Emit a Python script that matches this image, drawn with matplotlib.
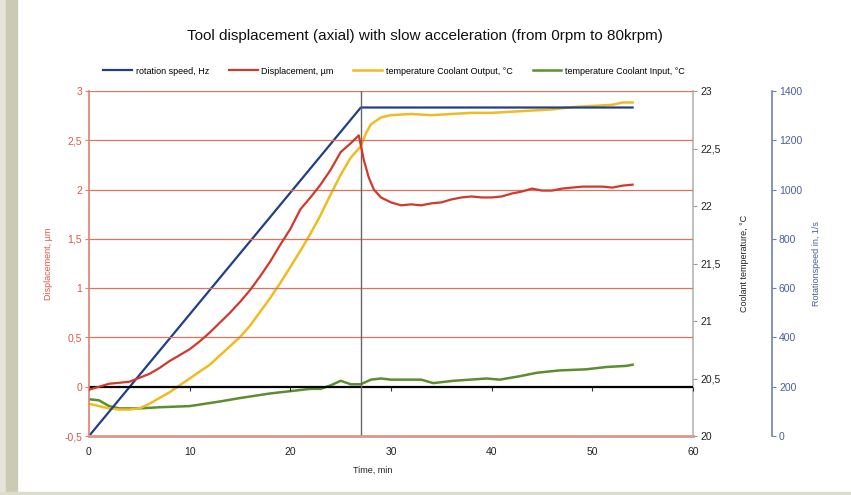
import matplotlib.pyplot as plt
from matplotlib.patches import Rectangle
from matplotlib.ticker import FuncFormatter

plt.rcParams['font.family'] = ['Liberation Sans', 'DejaVu Sans']

# rotation speed, Hz
speed_t = [0, 27, 54]
speed_hz = [0, 1333, 1333]

# displacement, um
disp_t = [0, 1, 2, 3, 4, 5, 6, 7, 8, 9, 10, 11, 12, 13, 14, 15, 16, 17, 18, 19,
          20, 21, 22, 23, 24, 25, 26, 26.8, 27.3, 27.8, 28.3, 29, 30, 31, 32, 33,
          34, 35, 36, 37, 38, 39, 40, 41, 42, 43, 44, 45, 46, 47, 48, 49, 50, 51,
          52, 53, 54]
disp_um = [-0.03, 0.0, 0.03, 0.04, 0.05, 0.09, 0.13, 0.19, 0.26, 0.32, 0.38, 0.46,
           0.55, 0.65, 0.75, 0.86, 0.98, 1.12, 1.27, 1.44, 1.6, 1.8, 1.92, 2.05,
           2.2, 2.38, 2.47, 2.55, 2.3, 2.12, 2.0, 1.92, 1.87, 1.84, 1.85, 1.84,
           1.86, 1.87, 1.9, 1.92, 1.93, 1.92, 1.92, 1.93, 1.96, 1.98, 2.01, 1.99,
           1.99, 2.01, 2.02, 2.03, 2.03, 2.03, 2.02, 2.04, 2.05]

# coolant output temperature, C
tout_t = [0, 1, 2, 3, 4, 5, 6, 7, 8, 9, 10, 11, 12, 13, 14, 15, 16, 17, 18, 19,
          20, 21, 22, 23, 24, 25, 26, 27, 27.5, 28, 29, 30, 32, 34, 36, 38, 40,
          42, 44, 46, 48, 50, 52, 53, 54]
tout_c = [20.28, 20.26, 20.24, 20.23, 20.23, 20.24, 20.28, 20.33, 20.38, 20.44,
          20.5, 20.56, 20.62, 20.7, 20.78, 20.86, 20.96, 21.08, 21.2, 21.33,
          21.47, 21.61, 21.76, 21.92, 22.1, 22.27, 22.42, 22.52, 22.63, 22.71,
          22.77, 22.79, 22.8, 22.79, 22.8, 22.81, 22.81, 22.82, 22.83, 22.84,
          22.86, 22.87, 22.88, 22.9, 22.9]

# coolant input temperature, C
tin_t = [0, 1, 2, 3, 4, 5, 7, 10, 13, 15, 18, 20, 22, 23, 24, 25, 26, 27, 28,
         29, 30, 31, 32, 33, 34.2, 36.2, 39.5, 40.8, 42.8, 44.5, 46.7, 49.4,
         51.4, 53.4, 54]
tin_c = [20.32, 20.31, 20.26, 20.24, 20.24, 20.24, 20.25, 20.26, 20.3, 20.33,
         20.37, 20.39, 20.41, 20.41, 20.44, 20.48, 20.45, 20.45, 20.49, 20.5,
         20.49, 20.49, 20.49, 20.49, 20.46, 20.48, 20.5, 20.49, 20.52, 20.55,
         20.57, 20.58, 20.6, 20.61, 20.62]

BLUE = '#213f87'
RED = '#d0392b'
YELLOW = '#f1bb22'
GREEN = '#5b8e2c'
RED_TXT = '#d9574a'
BLUE_TXT = '#4a5f98'

comma = FuncFormatter(lambda v, p: ('%g' % v).replace('.', ','))

fig = plt.figure(figsize=(8.51, 4.95), dpi=100)
fig.patch.set_facecolor('white')
# frame around the panel
fig.patches.append(Rectangle((0, 0), 6 / 851, 1, transform=fig.transFigure,
                             color='#e4e4d8', zorder=-10))
fig.patches.append(Rectangle((6 / 851, 0), 11 / 851, 1, transform=fig.transFigure,
                             color='#cbcbb4', zorder=-10))
fig.patches.append(Rectangle((0, 0), 1, 3 / 495, transform=fig.transFigure,
                             color='#dcdccb', zorder=-10))

ax = fig.add_axes([89 / 851, 1 - 436 / 495, 604 / 851, 345 / 495])
ax_t = ax.twinx()
ax_r = ax.twinx()
ax.set_zorder(3)
ax.patch.set_visible(False)

# displacement axis
ax.set_xlim(0, 60)
ax.set_ylim(-0.5, 3)
ax.set_yticks([-0.5, 0, 0.5, 1, 1.5, 2, 2.5, 3])
ax.yaxis.set_major_formatter(comma)
ax.set_xticks(range(0, 61, 10))
for y in [0.5, 1, 1.5, 2, 2.5, 3]:
    ax.axhline(y, color='#e0735f', lw=0.9, zorder=0)
ax.axhline(0, color='black', lw=1.6, zorder=1)
ax.axvline(27, color='#666666', lw=1.0, zorder=1)

for s in ['top', 'right']:
    ax.spines[s].set_visible(False)
ax.spines['left'].set_color('#e08070')
ax.spines['left'].set_linewidth(1.2)
ax.spines['bottom'].set_color('#d9988a')
ax.spines['bottom'].set_linewidth(2)
ax.tick_params(axis='y', colors=RED_TXT, labelsize=7.5, length=3, width=0.8,
               direction='out', pad=2)
ax.tick_params(axis='x', colors='#222222', labelsize=7.5, length=0, pad=8)
ax.tick_params(axis='y', color='#e08070')

# tick marks on the zero line
zero_ax = ax.secondary_xaxis(0.5 / 3.5)
zero_ax.set_xticks(range(0, 61, 10))
zero_ax.tick_params(length=3, width=0.8, color='#333333', labelbottom=False)
zero_ax.spines['bottom'].set_visible(False)

ax.plot(disp_t, disp_um, color=RED, lw=1.6, zorder=4, label='Displacement, µm')

# temperature axis
ax_t.set_ylim(20, 23)
ax_t.set_yticks([20, 20.5, 21, 21.5, 22, 22.5, 23])
ax_t.yaxis.set_major_formatter(comma)
for s in ['top', 'left', 'bottom']:
    ax_t.spines[s].set_visible(False)
ax_t.spines['right'].set_color('#b5b5b5')
ax_t.spines['right'].set_linewidth(1.2)
ax_t.tick_params(axis='y', colors='#222222', labelsize=7.5, length=3,
                 width=0.8, pad=2)
ax_t.tick_params(axis='y', color='#999999')
ax_t.plot(tin_t, tin_c, color=GREEN, lw=1.8, zorder=2,
          label='temperature Coolant Input, °C')
ax_t.plot(tout_t, tout_c, color=YELLOW, lw=1.8, zorder=3,
          label='temperature Coolant Output, °C')

# rotation speed axis
ax_r.spines['right'].set_position(('axes', (772 - 89) / 604))
for s in ['top', 'left', 'bottom']:
    ax_r.spines[s].set_visible(False)
ax_r.spines['right'].set_color('#7080aa')
ax_r.spines['right'].set_linewidth(1.2)
ax_r.set_ylim(0, 1400)
ax_r.set_yticks(range(0, 1401, 200))
ax_r.tick_params(axis='y', colors=BLUE_TXT, labelsize=7.5, length=3,
                 width=0.8, pad=2)
ax_r.tick_params(axis='y', color='#7080aa')
ax_r.plot(speed_t, speed_hz, color=BLUE, lw=1.6, zorder=1,
          label='rotation speed, Hz')

ax.set_xlabel('Time, min', fontsize=6.5, color='#222222')
ax.xaxis.set_label_coords((373 - 89) / 604, (436 - 466) / 345)
ax.set_ylabel('Displacement, µm', fontsize=6.5, color=RED_TXT)
ax.yaxis.set_label_coords((53 - 89) / 604, 0.5)
ax_t.set_ylabel('Coolant temperature, °C', fontsize=6.5, color='#222222')
ax_t.yaxis.set_label_coords((740 - 89) / 604, 0.5)
ax_r.set_ylabel('Rotationspeed in, 1/s', fontsize=6.5, color=BLUE_TXT)
ax_r.yaxis.set_label_coords((812 - 89) / 604, 0.5)

fig.text(425 / 851, 1 - 36 / 495,
         'Tool displacement (axial) with slow acceleration (from 0rpm to 80krpm)',
         ha='center', va='center', fontsize=11, color='#111111')

handles = [ax_r.lines[0], ax.lines[-1], ax_t.lines[1], ax_t.lines[0]]
fig.legend(handles, [h.get_label() for h in handles], loc='center',
           bbox_to_anchor=(394 / 851, 1 - 71 / 495), ncol=4, frameon=False,
           fontsize=6.5, handlelength=3.2, columnspacing=2.2, handletextpad=0.4)

fig.savefig('out.png', dpi=100, facecolor=fig.get_facecolor())
